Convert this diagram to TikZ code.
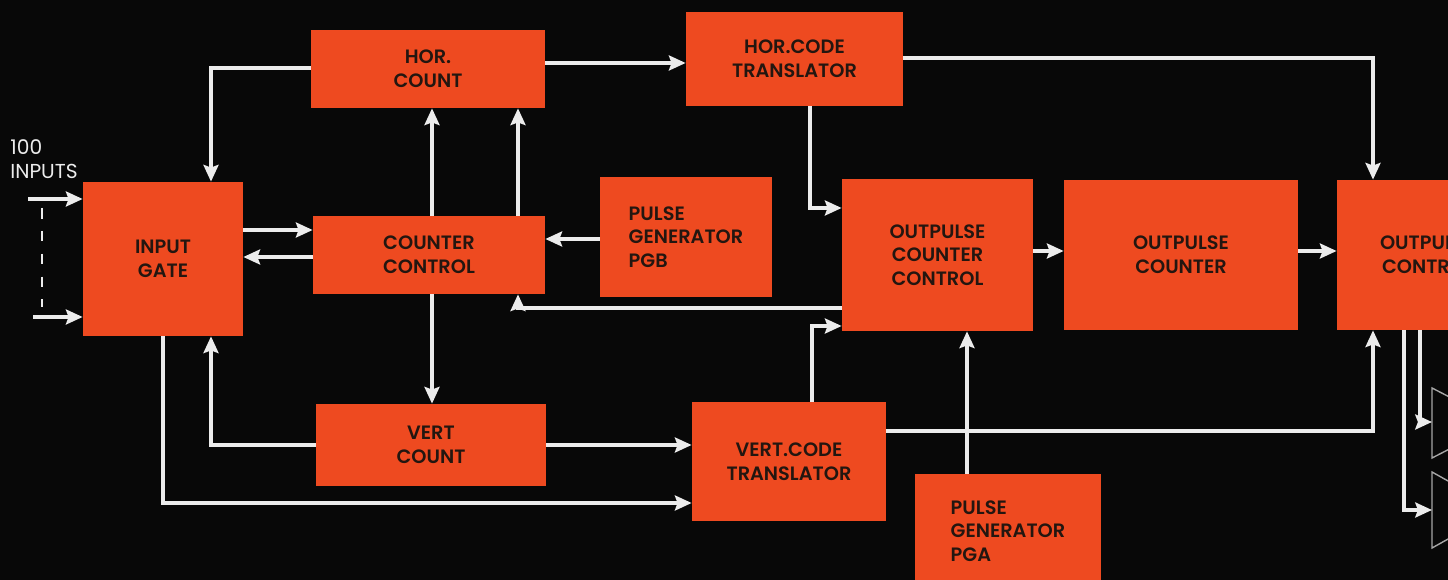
\documentclass[tikz,border=0pt]{standalone}
\usepackage{fontspec}
\setmainfont{Poppins}[BoldFont={Poppins SemiBold}]
\usepackage{tikz}
\usetikzlibrary{arrows.meta,calc}
\definecolor{boxred}{RGB}{238,74,32}
\definecolor{inkdark}{RGB}{35,22,16}
\definecolor{wire}{RGB}{236,236,236}
\definecolor{night}{RGB}{8,8,8}

\begin{document}
\begin{tikzpicture}[x=0.02cm,y=-0.02cm,
  every node/.style={font=\fontsize{11}{13.5}\selectfont},
  blk/.style 2 args={fill=boxred,text=inkdark,align=center,inner sep=0pt,
    minimum width=#1*0.02cm,minimum height=#2*0.02cm,font=\fontsize{11}{13.5}\selectfont\bfseries},
  ar/.style={-{Stealth[length=9.5pt,width=8.5pt,inset=1.5pt]},wire,line width=2pt}]
\clip (0,0) rectangle (1448,580);
\fill[night] (0,0) rectangle (1448,580);
% blocks
\node[blk={160}{154}] (gate) at (163,259) {INPUT\\GATE};
\node[blk={234}{78}] (hcnt) at (428,69) {HOR.\\COUNT};
\node[blk={217}{94}] (hct) at (794.5,59) {HOR.CODE\\TRANSLATOR};
\node[blk={232}{78}] (cc) at (429,255) {COUNTER\\CONTROL};
\node[blk={172}{120},align=left] (pgb) at (686,237) {PULSE\\GENERATOR\\PGB};
\node[blk={191}{152}] (occ) at (937.5,255) {OUTPULSE\\COUNTER\\CONTROL};
\node[blk={234}{150}] (oc) at (1181,255) {OUTPULSE\\COUNTER};
\node[blk={182}{150}] (octl) at (1428,255) {OUTPULSE\\CONTROL};
\node[blk={230}{82}] (vcnt) at (431,445) {VERT\\COUNT};
\node[blk={194}{119}] (vct) at (789,461.5) {VERT.CODE\\TRANSLATOR};
\node[blk={186}{114},align=left] (pga) at (1008,531) {PULSE\\GENERATOR\\PGA};
% inputs
\node[anchor=west,align=left,text=wire,inner sep=0pt,font=\fontsize{11.5}{13.5}\selectfont] (inlbl) at (10,159) {100\\INPUTS};
\coordinate (in1) at (28,199);
\coordinate (in2) at (33,317);
\draw[ar] (in1) -- (gate.west |- in1);
\draw[ar] (in2) -- (gate.west |- in2);
\draw[wire,line width=1pt,dash pattern=on 6pt off 7pt] (42,208) -- (42,307);
% outputs
\coordinate (amp1) at (1432,422);
\coordinate (amp2) at (1432,510);
\draw[gray!70,line width=0.8pt] (1432,388) -- (1432,458) -- (1500,423) -- cycle;
\draw[gray!70,line width=0.8pt] (1432,472) -- (1432,548) -- (1500,510) -- cycle;
% connectors
\draw[ar] (hcnt.west |- 0,68) -| (gate.north -| 211,0);
\draw[ar] (hcnt.east |- 0,63) -- (hct.west |- 0,63);
\draw[ar] (hct.east |- 0,58) -| (octl.north -| 1373,0);
\draw[ar] (hct.south -| 810,0) |- (occ.west |- 0,208);
\foreach \x in {432,518} \draw[ar] (cc.north -| \x,0) -- (hcnt.south -| \x,0);
\draw[ar] (gate.east |- 0,230) -- (cc.west |- 0,230);
\draw[ar] (cc.west |- 0,257) -- (gate.east |- 0,257);
\draw[ar] (pgb.west |- 0,239) -- (cc.east |- 0,239);
\draw[ar] (occ.west |- 0,308) -| (cc.south -| 518,0);
\draw[ar] (vct.north -| 812,0) |- (occ.west |- 0,326);
\draw[ar] (cc.south -| 432,0) -- (vcnt.north -| 432,0);
\draw[ar] (vcnt.west) -| (gate.south -| 211,0);
\draw[ar] (vcnt.east) -- (vct.west |- vcnt.east);
\draw[ar] (gate.south -| 163,0) |- (vct.west |- 0,503);
\draw[ar] (vct.east |- 0,431) -| (octl.south -| 1373,0);
\draw[ar] (pga.north -| 967,0) -- (occ.south -| 967,0);
\draw[ar] (occ.east |- 0,251) -- (oc.west |- 0,251);
\draw[ar] (oc.east |- 0,251) -- (octl.west |- 0,251);
\draw[ar] (octl.south -| 1420,0) |- (amp1);
\draw[ar] (octl.south -| 1404,0) |- (amp2);
\end{tikzpicture}
\end{document}
